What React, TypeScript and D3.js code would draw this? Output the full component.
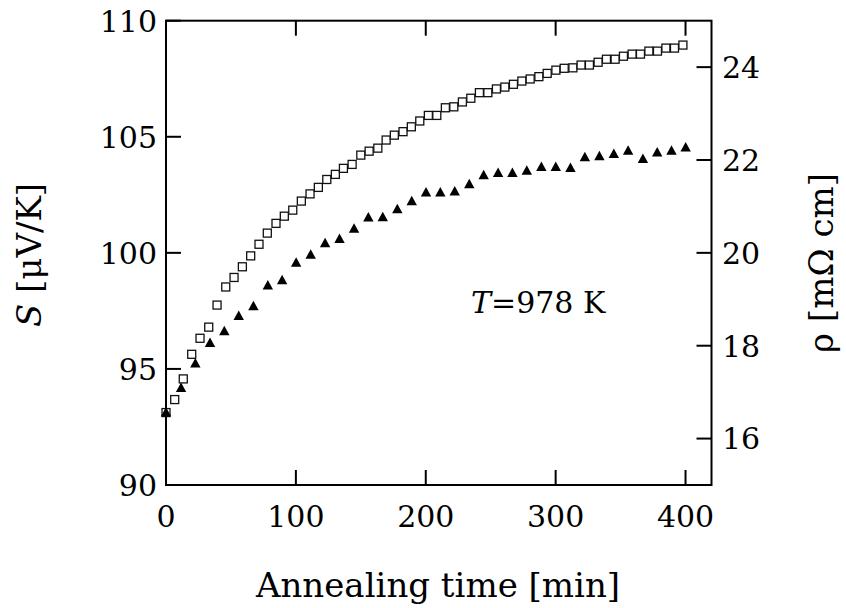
import React from "react";
import * as d3 from "d3";

// Annealing time [min] for Seebeck coefficient (open squares, left axis)
const timeS = [
  0, 6.7, 13.3, 19.8, 26.2, 32.9, 39.3, 46.0, 52.4, 58.8, 65.2, 71.6, 78.0, 84.7, 91.1, 97.6,
  104.2, 110.9, 117.3, 123.8, 130.4, 136.6, 143.3, 150.0, 156.4, 163.1, 169.5, 175.8, 182.5, 188.9,
  195.4, 202.0, 208.5, 215.1, 221.6, 228.2, 234.7, 241.3, 247.8, 254.4, 260.9, 267.5, 274.0, 280.4,
  287.1, 293.5, 300.2, 306.6, 313.3, 319.6, 326.0, 332.7, 339.1, 345.8, 352.2, 358.9, 365.3, 371.8,
  378.4, 384.9, 391.5, 398.0,
];
// S [μV/K]
const seebeck = [
  93.12, 93.68, 94.57, 95.63, 96.32, 96.8, 97.75, 98.53, 98.94, 99.4, 99.87, 100.37, 100.85, 101.27,
  101.58, 101.84, 102.23, 102.54, 102.82, 103.16, 103.38, 103.64, 103.81, 104.21, 104.38, 104.51,
  104.86, 105.07, 105.22, 105.43, 105.68, 105.92, 105.92, 106.25, 106.29, 106.5, 106.66, 106.9,
  106.9, 107.06, 107.14, 107.26, 107.4, 107.49, 107.59, 107.73, 107.87, 107.95, 107.97, 108.09,
  108.09, 108.21, 108.34, 108.34, 108.47, 108.56, 108.56, 108.69, 108.69, 108.82, 108.82, 108.95,
];

// Annealing time [min] for resistivity (filled triangles, right axis)
const timeRho = [
  0, 11.6, 22.6, 33.9, 44.9, 56.0, 67.3, 78.4, 89.4, 100.2, 111.4, 122.5, 133.6, 144.8, 155.8,
  166.9, 178.1, 189.2, 200.2, 211.2, 222.3, 233.5, 244.6, 255.7, 266.7, 277.8, 289.0, 300.1,
  311.4, 322.5, 333.7, 344.8, 355.8, 367.2, 378.2, 389.2, 400.1,
];
// ρ [mΩ cm]
const rho = [
  16.57, 17.1, 17.63, 18.07, 18.32, 18.65, 18.86, 19.31, 19.42, 19.8, 19.97, 20.22, 20.31, 20.53,
  20.77, 20.78, 20.95, 21.12, 21.31, 21.31, 21.33, 21.49, 21.68, 21.73, 21.73, 21.78, 21.86, 21.86,
  21.84, 22.07, 22.09, 22.14, 22.21, 22.03, 22.17, 22.21, 22.28,
];

const xTicks = [0, 100, 200, 300, 400];
const leftTicks = [90, 95, 100, 105, 110];
const rightTicks = [16, 18, 20, 22, 24];

export default function App() {
  const W = 846;
  const H = 608;
  const left = 166;
  const right = 711.5;
  const top = 20.7;
  const bottom = 485;
  const x = d3.scaleLinear().domain([0, 420]).range([left, right]);
  const yL = d3.scaleLinear().domain([90, 110]).range([bottom, top]);
  const yR = d3.scaleLinear().domain([15, 25]).range([bottom, top]);
  const tickLen = 15;
  const tickFont = 30;
  const titleFont = 34;

  const triPath = (cx: number, cy: number) => {
    const p = d3.path();
    p.moveTo(cx, cy - 5);
    p.lineTo(cx + 5.2, cy + 4.5);
    p.lineTo(cx - 5.2, cy + 4.5);
    p.closePath();
    return p.toString();
  };

  return (
    <svg
      width={W}
      height={H}
      style={{ position: "absolute", left: 0, top: 0, background: "#fff" }}
      fontFamily="'DejaVu Serif', serif"
    >
      <rect x={0} y={0} width={W} height={H} fill="#fff" />
      {/* markers */}
      <g>
        {timeS.map((t, i) => (
          <rect
            key={"s" + i}
            x={x(t) - 4}
            y={yL(seebeck[i]) - 4}
            width={8}
            height={8}
            fill="#fff"
            stroke="#111"
            strokeWidth={1.3}
          />
        ))}
        {timeRho.map((t, i) => (
          <path key={"r" + i} d={triPath(x(t), yR(rho[i]))} fill="#000" />
        ))}
      </g>
      {/* frame */}
      <rect
        x={left}
        y={top}
        width={right - left}
        height={bottom - top}
        fill="none"
        stroke="#000"
        strokeWidth={2}
      />
      {/* x ticks (bottom and top) */}
      {xTicks.map((t) => (
        <g key={"x" + t}>
          <line x1={x(t)} x2={x(t)} y1={bottom} y2={bottom - tickLen} stroke="#000" strokeWidth={2} />
          <line x1={x(t)} x2={x(t)} y1={top} y2={top + tickLen} stroke="#000" strokeWidth={2} />
          <text x={x(t)} y={527} textAnchor="middle" fontSize={tickFont} fill="#000">
            {t}
          </text>
        </g>
      ))}
      {/* left ticks */}
      {leftTicks.map((t) => (
        <g key={"l" + t}>
          <line x1={left} x2={left + tickLen} y1={yL(t)} y2={yL(t)} stroke="#000" strokeWidth={2} />
          <text x={157} y={yL(t) + 10.9} textAnchor="end" fontSize={tickFont} fill="#000">
            {t}
          </text>
        </g>
      ))}
      {/* right ticks */}
      {rightTicks.map((t) => (
        <g key={"r" + t}>
          <line x1={right} x2={right - tickLen} y1={yR(t)} y2={yR(t)} stroke="#000" strokeWidth={2} />
          <text x={722} y={yR(t) + 10.9} textAnchor="start" fontSize={tickFont} fill="#000">
            {t}
          </text>
        </g>
      ))}
      {/* axis titles */}
      <text x={438} y={597} textAnchor="middle" fontSize={titleFont} fill="#000">
        Annealing time [min]
      </text>
      <text
        transform="translate(41,255) rotate(-90)"
        textAnchor="middle"
        fontSize={titleFont}
        fill="#000"
      >
        <tspan fontStyle="italic">S</tspan> [μV/K]
      </text>
      <text
        transform="translate(833,263) rotate(-90)"
        textAnchor="middle"
        fontSize={titleFont}
        fill="#000"
      >
        ρ [mΩ cm]
      </text>
      {/* annotation */}
      <text x={471} y={313} fontSize={tickFont} fill="#000">
        <tspan fontStyle="italic">T</tspan>=978 K
      </text>
    </svg>
  );
}
